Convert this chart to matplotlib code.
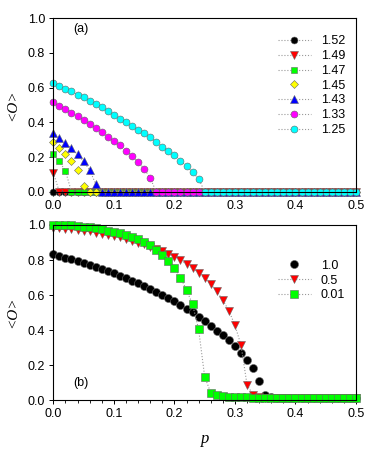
import numpy as np
import matplotlib
matplotlib.use("Agg")
import matplotlib.pyplot as plt
from matplotlib.ticker import MultipleLocator

plt.rcParams['font.family'] = ['Liberation Sans', 'DejaVu Sans']

p = np.round(np.arange(0, 0.501, 0.01), 2)
n = len(p)

def pad(vals, tail=0.0):
    # values, the rest sits at the floor value
    out = list(vals) + [tail] * (n - len(vals))
    return np.array(out)

# Panel (a)
labels_a = ['1.52', '1.49', '1.47', '1.45', '1.43', '1.33', '1.25']
y152 = pad([0.0])
y149 = pad([0.11])
y147 = pad([0.215, 0.175, 0.12])
y145 = pad([0.285, 0.25, 0.215, 0.175, 0.125, 0.03])
y143 = pad([0.34, 0.31, 0.28, 0.25, 0.215, 0.175, 0.125, 0.045])
y133 = pad([0.515, 0.494, 0.479, 0.456, 0.437, 0.413, 0.39, 0.367, 0.344,
            0.317, 0.294, 0.267, 0.237, 0.206, 0.171, 0.133, 0.079])
y125 = pad([0.625, 0.61, 0.594, 0.579, 0.56, 0.544, 0.525, 0.506, 0.487,
            0.463, 0.444, 0.421, 0.402, 0.379, 0.356, 0.337, 0.313, 0.287,
            0.26, 0.237, 0.21, 0.179, 0.148, 0.113, 0.075])
series_a = [y152, y149, y147, y145, y143, y133, y125]
colors_a = ['black', 'red', '#00ff00', '#ffff00', '#0000ff', '#ff00ff', '#00ffff']
markers_a = ['o', 'v', 's', 'D', '^', 'o', 'o']
sizes_a = [5, 5.5, 4.6, 4.2, 5.5, 5, 5]

# Panel (b)
labels_b = ['1.0', '0.5', '0.01']
y10 = pad([0.832, 0.823, 0.813, 0.804, 0.792, 0.783, 0.771, 0.76, 0.749,
           0.735, 0.724, 0.71, 0.697, 0.682, 0.669, 0.653, 0.636, 0.619,
           0.602, 0.583, 0.564, 0.543, 0.522, 0.501, 0.476, 0.451, 0.425,
           0.396, 0.37, 0.343, 0.309, 0.27, 0.229, 0.181, 0.109, 0.027,
           0.015], 0.01)
y05 = pad([0.985, 0.983, 0.98, 0.977, 0.972, 0.968, 0.963, 0.957, 0.951,
           0.944, 0.937, 0.929, 0.92, 0.91, 0.9, 0.889, 0.877, 0.864, 0.85,
           0.835, 0.82, 0.8, 0.777, 0.754, 0.728, 0.697, 0.663, 0.621,
           0.571, 0.51, 0.427, 0.314, 0.086, 0.03, 0.015, 0.012], 0.01)
y001 = pad([1.0, 1.0, 1.0, 0.998, 0.995, 0.99, 0.986, 0.981, 0.975, 0.968,
            0.96, 0.952, 0.944, 0.932, 0.92, 0.905, 0.885, 0.86, 0.83,
            0.792, 0.752, 0.70, 0.629, 0.547, 0.404, 0.133, 0.042, 0.027,
            0.022, 0.019, 0.017, 0.016, 0.015, 0.014, 0.013, 0.012], 0.01)
series_b = [y10, y05, y001]
colors_b = ['black', 'red', '#00ff00']
markers_b = ['o', 'v', 's']
sizes_b = [5.8, 6, 5.3]
lines_b = ['none', ':', ':']

fig = plt.figure(figsize=(3.74, 4.5), dpi=100)
ax1 = fig.add_axes([0.1425, 0.574, 0.8095, 0.3853])
ax2 = fig.add_axes([0.1425, 0.1111, 0.8095, 0.3889])

for ys, c, m, s, lab in zip(series_a, colors_a, markers_a, sizes_a, labels_a):
    ls = 'none' if lab == '1.45' else ':'
    ax1.plot(p, ys, linestyle=ls, color='#999999', lw=0.8, marker=m,
             markersize=s, markerfacecolor=c, markeredgecolor='#666666',
             markeredgewidth=0.4, label=lab, clip_on=False)

for ys, c, m, s, ls, lab in zip(series_b, colors_b, markers_b, sizes_b, lines_b, labels_b):
    ax2.plot(p, ys, linestyle=ls, color='#999999', lw=0.8, marker=m,
             markersize=s, markerfacecolor=c, markeredgecolor='#666666',
             markeredgewidth=0.4, label=lab, clip_on=False)

for ax in (ax1, ax2):
    ax.set_xlim(0, 0.5)
    ax.set_ylim(0, 1.0)
    ax.xaxis.set_major_locator(MultipleLocator(0.1))
    ax.xaxis.set_minor_locator(MultipleLocator(0.02))
    ax.yaxis.set_major_locator(MultipleLocator(0.2))
    ax.set_xticklabels([f'{v:.1f}' for v in ax.get_xticks()])
    ax.set_yticklabels([f'{v:.1f}' for v in ax.get_yticks()])
    ax.tick_params(direction='out', length=3, width=0.7, labelsize=9, pad=3)
    ax.tick_params(which='minor', direction='out', length=2, width=0.6)
    for sp in ax.spines.values():
        sp.set_linewidth(0.8)
    ax.set_ylabel('<O>', family='Liberation Serif', style='italic',
                  fontsize=11, labelpad=6)

ax1.text(0.065, 0.92, '(a)', transform=ax1.transAxes, fontsize=9)
ax2.text(0.065, 0.08, '(b)', transform=ax2.transAxes, fontsize=9)
ax2.set_xlabel('p', family='Liberation Serif', style='italic', fontsize=12,
               labelpad=8)

leg1 = ax1.legend(loc='upper right', bbox_to_anchor=(0.98, 0.93), frameon=False,
                  fontsize=9, handlelength=2.6, labelspacing=0.22,
                  handletextpad=0.8, borderaxespad=0)
leg2 = ax2.legend(loc='upper right', bbox_to_anchor=(0.98, 0.83), frameon=False,
                  fontsize=9, handlelength=2.6, labelspacing=0.22,
                  handletextpad=0.8, borderaxespad=0)

fig.savefig('out.png', dpi=100)
